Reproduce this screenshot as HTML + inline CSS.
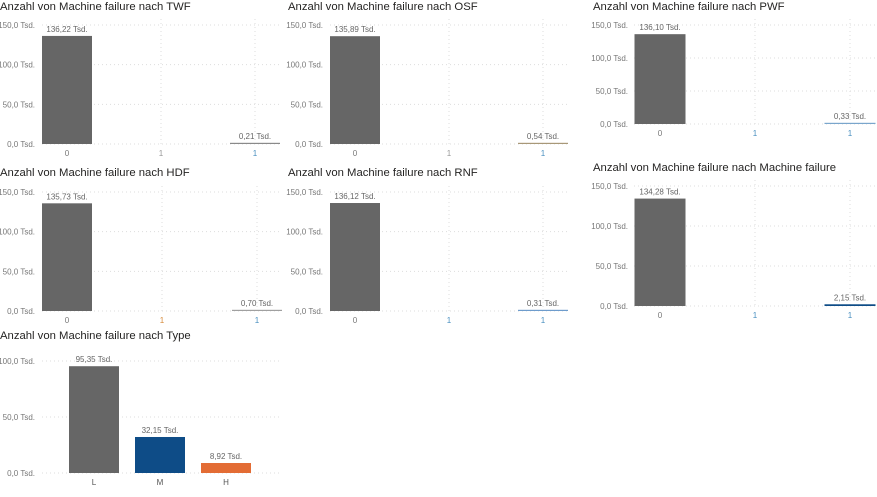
<!DOCTYPE html>
<html><head><meta charset="utf-8"><style>
body{margin:0;width:877px;height:492px;background:#fff;overflow:hidden;font-family:"Liberation Sans",sans-serif}
svg text{font-family:"Liberation Sans",sans-serif}
</style></head><body>
<svg id="c" width="877" height="492" xmlns="http://www.w3.org/2000/svg"></svg>
<script>
const titles=["Anzahl von Machine failure nach TWF","Anzahl von Machine failure nach OSF","Anzahl von Machine failure nach PWF","Anzahl von Machine failure nach HDF","Anzahl von Machine failure nach RNF","Anzahl von Machine failure nach Machine failure","Anzahl von Machine failure nach Type"];
const twfCats=["0","1","1"];const twfVals=[136.22,0,0.21];
const osfCats=["0","1","1"];const osfVals=[135.89,0,0.54];
const pwfCats=["0","1","1"];const pwfVals=[136.10,0,0.33];
const hdfCats=["0","1","1"];const hdfVals=[135.73,0,0.70];
const rnfCats=["0","1","1"];const rnfVals=[136.12,0,0.31];
const mfCats=["0","1","1"];const mfVals=[134.28,0,2.15];
const typeCats=["L","M","H"];const typeVals=[95.35,32.15,8.92];
const ticks150=[0,50,100,150];const ticks100=[0,50,100];

const svg=document.getElementById('c');const NS="http://www.w3.org/2000/svg";
function mk(t,a,p){const e=document.createElementNS(NS,t);for(const k in a)e.setAttribute(k,a[k]);(p||svg).appendChild(e);return e;}
function fmt(v,d){return v.toFixed(d).replace('.',',')+' Tsd.';}
const panels=[
 {t:0,x:0,ty:10,top:25,bot:144,x0:42,x1:280,c0:67,step:94,cats:twfCats,vals:twfVals,ticks:ticks150,max:150,cols:["#666","#fff","#8a8a8a"],lc:["#777","#999","#4a90c0"],bw:50,n:"twf"},
 {t:1,x:288,ty:10,top:25,bot:144,x0:42,x1:280,c0:67,step:94,cats:osfCats,vals:osfVals,ticks:ticks150,max:150,cols:["#666","#fff","#a89878"],lc:["#777","#999","#4a90c0"],bw:50,n:"osf"},
 {t:2,x:593,ty:10,top:25,bot:124,x0:41,x1:284,c0:67,step:95,cats:pwfCats,vals:pwfVals,ticks:ticks150,max:150,cols:["#666","#fff","#7aa6cc"],lc:["#777","#4a90c0","#4a90c0"],bw:51,n:"pwf"},
 {t:3,x:0,ty:176,top:192,bot:311,x0:42,x1:282,c0:67,step:95,cats:hdfCats,vals:hdfVals,ticks:ticks150,max:150,cols:["#666","#fff","#a0a0a0"],lc:["#777","#d68b3c","#4a90c0"],bw:50,n:"hdf"},
 {t:4,x:288,ty:176,top:192,bot:311,x0:42,x1:282,c0:67,step:94,cats:rnfCats,vals:rnfVals,ticks:ticks150,max:150,cols:["#666","#fff","#6e9ccc"],lc:["#777","#4a90c0","#4a90c0"],bw:50,n:"rnf"},
 {t:5,x:593,ty:171,top:186,bot:306,x0:41,x1:284,c0:67,step:95,cats:mfCats,vals:mfVals,ticks:ticks150,max:150,cols:["#666","#fff","#0e4c87"],lc:["#777","#4a90c0","#4a90c0"],bw:51,n:"machine-failure"},
 {t:6,x:0,ty:339,top:361,bot:473,x0:42,x1:280,c0:94,step:66,band:1,cats:typeCats,vals:typeVals,ticks:ticks100,max:100,cols:["#666","#0e4c87","#e36c34"],lc:["#555","#555","#555"],bw:50,n:"type"}
];
panels.forEach(p=>{
 const g=mk('g',{transform:`translate(${p.x},0)`});
 
 
 const tt=mk('text',{x:0,y:p.ty,'font-size':11.3,fill:'#252423'},g);tt.textContent=titles[p.t];
 
 const yS=v=>p.bot-(v/p.max)*(p.bot-p.top);
 const xC=i=>p.c0+p.step*i;
 p.ticks.forEach(t=>{
  const y=yS(t);
  const l=mk('line',{x1:p.x0,x2:p.x1,y1:y,y2:y,stroke:'#ddd','stroke-dasharray':'1,3'},g);
  
  const tx=mk('text',{x:35,y:y+3,'font-size':8,fill:'#777','text-anchor':'end'},g);tx.textContent=fmt(t,1);
  
 });
 if(!p.band){[1,2].forEach(i=>{const l=mk('line',{x1:xC(i),x2:xC(i),y1:p.top-6,y2:p.bot,stroke:'#ddd','stroke-dasharray':'1,3'},g);
  });}
 p.cats.forEach((c,i)=>{
  const v=p.vals[i];const x=xC(i)-p.bw/2;
  if(v>0){
   const h=Math.max(p.bot-yS(v),1.2);
   const r=mk('rect',{x:x,y:p.bot-h,width:p.bw,height:h,fill:p.cols[i]},g);
   
   const vl=mk('text',{x:xC(i),y:p.bot-h-4,'font-size':8,fill:'#666','text-anchor':'middle'},g);vl.textContent=fmt(v,2);
   
  }
  const xl=mk('text',{x:xC(i),y:p.bot+12,'font-size':8,fill:p.lc[i],'text-anchor':'middle'},g);xl.textContent=c;
  
 });
});
</script>
</body></html>
